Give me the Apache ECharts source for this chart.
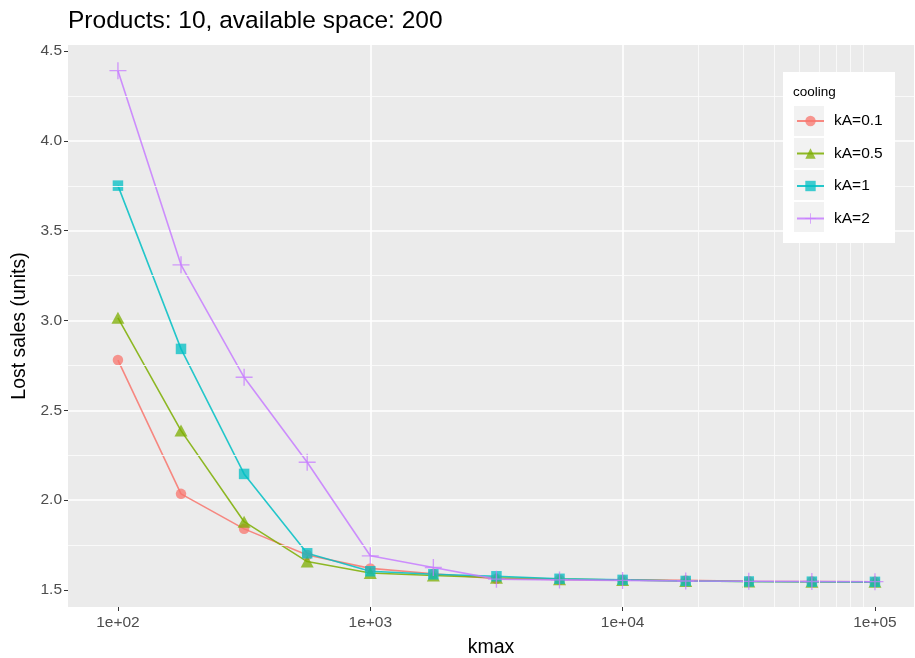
<!DOCTYPE html>
<html>
<head>
<meta charset="utf-8">
<script src="https://cdn.jsdelivr.net/npm/echarts@6/dist/echarts.min.js"></script>
<style>html,body{margin:0;padding:0;background:#fff}#c{width:915px;height:658px}</style>
</head>
<body>
<div id="c"></div>
<script>
const kmax = [100, 177.8, 316.2, 562.3, 1000, 1778, 3162, 5623, 10000, 17783, 31623, 56234, 100000];
const seriesNames = ['kA=0.1', 'kA=0.5', 'kA=1', 'kA=2'];
const lostKA01 = [2.78, 2.035, 1.84, 1.695, 1.62, 1.59, 1.562, 1.558, 1.556, 1.553, 1.548, 1.547, 1.546];
const lostKA05 = [3.015, 2.387, 1.88, 1.658, 1.594, 1.58, 1.568, 1.56, 1.555, 1.55, 1.547, 1.546, 1.545];
const lostKA1 = [3.751, 2.842, 2.146, 1.704, 1.604, 1.587, 1.576, 1.562, 1.556, 1.55, 1.547, 1.546, 1.545];
const lostKA2 = [4.391, 3.31, 2.684, 2.211, 1.69, 1.625, 1.56, 1.556, 1.553, 1.55, 1.548, 1.547, 1.546];
const xTickValues = [100, 1000, 10000, 100000];
const xTickLabels = ['1e+02', '1e+03', '1e+04', '1e+05'];
const xMinorGrid = [20000, 30000, 40000, 50000, 60000, 70000, 80000, 90000];
const yTickValues = [1.5, 2.0, 2.5, 3.0, 3.5, 4.0, 4.5];
const yTickLabels = ['1.5', '2.0', '2.5', '3.0', '3.5', '4.0', '4.5'];
const yMinorGrid = [1.75, 2.25, 2.75, 3.25, 3.75, 4.25];

const colors = ['#F8766D', '#7CAE00', '#00BFC4', '#C77CFF'];
const values = [lostKA01, lostKA05, lostKA1, lostKA2];
const symbols = ['circle', 'triangle', 'rect', 'path://M0,4.6H10V5.4H0Z M4.6,0H5.4V10H4.6Z'];
const symbolSizes = [10.5, [13, 12], 10.5, 17];
const FONT = 'Liberation Sans, Arial, sans-serif';

const chart = echarts.init(document.getElementById('c'), null, {renderer: 'canvas'});

const series = [{
  name: 'grid-minor',
  type: 'line',
  data: [],
  silent: true,
  z: 1,
  markLine: {
    silent: true,
    symbol: 'none',
    label: {show: false},
    animation: false,
    lineStyle: {color: '#FAFAFA', width: 0.9, type: 'solid'},
    emphasis: {disabled: true},
    data: xMinorGrid.map(v => ({xAxis: v})).concat(yMinorGrid.map(v => ({yAxis: v})))
  }
}];
seriesNames.forEach((n, i) => {
  series.push({
    name: n,
    type: 'line',
    data: kmax.map((k, j) => [k, values[i][j]]),
    symbol: symbols[i],
    symbolSize: symbolSizes[i],
    showAllSymbol: true,
    color: colors[i],
    lineStyle: {color: colors[i], width: 1.6, opacity: 0.85},
    itemStyle: {color: colors[i], opacity: 0.75},
    emphasis: {disabled: true},
    animation: false
  });
});

chart.setOption({
  animation: false,
  title: {
    text: 'Products: 10, available space: 200',
    left: 68, top: 9, padding: 0,
    textStyle: {fontFamily: FONT, fontSize: 24.5, fontWeight: 'normal', color: '#000'}
  },
  grid: {
    left: 68, right: 1, top: 45, bottom: 51,
    outerBoundsMode: 'none',
    show: true, backgroundColor: '#EBEBEB', borderWidth: 0, containLabel: false
  },
  xAxis: {
    type: 'log', logBase: 10,
    min: 63.4, max: 142800,
    name: 'kmax', nameLocation: 'middle', nameGap: 31,
    nameTextStyle: {fontFamily: FONT, fontSize: 19.5, color: '#000'},
    axisLine: {show: false},
    axisTick: {show: true, length: 4, lineStyle: {color: '#333', width: 1}, customValues: xTickValues},
    axisLabel: {
      fontFamily: FONT, fontSize: 15.5, color: '#4D4D4D', margin: 8,
      customValues: xTickValues,
      formatter: v => { const i = xTickValues.findIndex(t => Math.abs(Math.log10(t) - Math.log10(v)) < 1e-6); return i >= 0 ? xTickLabels[i] : ''; }
    },
    splitLine: {show: true, showMinLine: false, showMaxLine: false, lineStyle: {color: '#FFFFFF', width: 1.6}},
    minorTick: {show: false}, minorSplitLine: {show: false}
  },
  yAxis: {
    type: 'value',
    min: 1.405, max: 4.534,
    name: 'Lost sales (units)', nameLocation: 'middle', nameGap: 38, nameRotate: 90,
    nameTextStyle: {fontFamily: FONT, fontSize: 19.5, color: '#000'},
    axisLine: {show: false},
    axisTick: {show: true, length: 4, lineStyle: {color: '#333', width: 1}, customValues: yTickValues},
    axisLabel: {
      fontFamily: FONT, fontSize: 15.5, color: '#4D4D4D', margin: 6,
      customValues: yTickValues,
      formatter: v => { const i = yTickValues.findIndex(t => Math.abs(t - v) < 1e-6); return i >= 0 ? yTickLabels[i] : ''; }
    },
    splitLine: {show: true, showMinLine: false, showMaxLine: false, lineStyle: {color: '#FFFFFF', width: 1.6}}
  },
  legend: {
    data: seriesNames,
    orient: 'vertical',
    left: 796, top: 113, padding: 0,
    itemWidth: 27, itemHeight: 13, itemGap: 16.5,
    textStyle: {fontFamily: FONT, fontSize: 15.5, color: '#000', padding: [0, 0, 0, 5]},
    selectedMode: false,
    z: 12
  },
  graphic: [
    {type: 'rect', z: 10, shape: {x: 783, y: 72, width: 112, height: 171}, style: {fill: '#FFFFFF'}, silent: true},
    {type: 'rect', z: 10, shape: {x: 794, y: 106, width: 30, height: 30}, style: {fill: '#F2F2F2'}, silent: true},
    {type: 'rect', z: 10, shape: {x: 794, y: 138, width: 30, height: 30}, style: {fill: '#F2F2F2'}, silent: true},
    {type: 'rect', z: 10, shape: {x: 794, y: 170, width: 30, height: 30}, style: {fill: '#F2F2F2'}, silent: true},
    {type: 'rect', z: 10, shape: {x: 794, y: 202, width: 30, height: 30}, style: {fill: '#F2F2F2'}, silent: true},
    {type: 'text', z: 11, x: 793, y: 92, style: {text: 'cooling', fontFamily: FONT, fontSize: 13.5, fill: '#000', verticalAlign: 'middle'}, silent: true}
  ],
  series: series
});
</script>
</body>
</html>
